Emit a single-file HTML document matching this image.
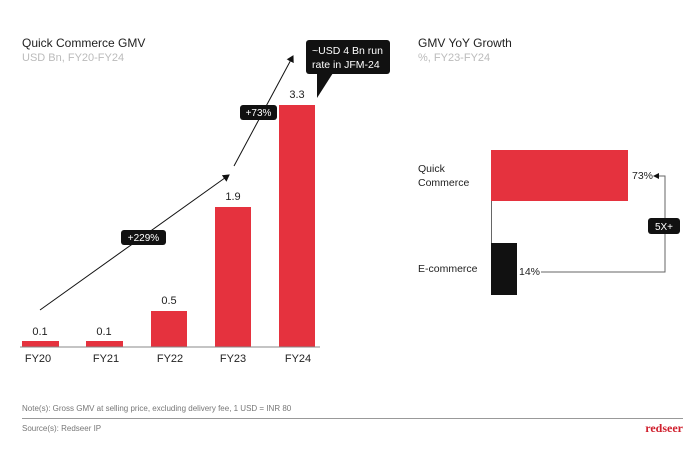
<!DOCTYPE html><html><head><style>body{margin:0;background:#fff}svg text{font-family:"Liberation Sans",sans-serif}</style></head><body>
<svg width="699" height="444" viewBox="0 0 699 444" xmlns="http://www.w3.org/2000/svg">
<defs><marker id="ah" markerWidth="8" markerHeight="8" refX="6" refY="4" orient="auto"><path d="M0,0 L7,4 L0,8z" fill="#111"/></marker></defs>
<text x="22" y="47" font-size="12" fill="#222">Quick Commerce GMV</text>
<text x="22" y="61" font-size="11" fill="#bbb">USD Bn, FY20-FY24</text>
<g fill="#e5323e">
<rect x="22" y="341" width="37" height="6"/><rect x="86" y="341" width="37" height="6"/>
<rect x="151" y="311" width="36" height="36"/><rect x="215" y="207" width="36" height="140"/>
<rect x="279" y="105" width="36" height="242"/></g>
<line x1="20" y1="347" x2="320" y2="347" stroke="#888" stroke-width="1"/>
<g font-size="11" fill="#222" text-anchor="middle">
<text x="40" y="335">0.1</text><text x="104" y="335">0.1</text><text x="169" y="304">0.5</text><text x="233" y="200">1.9</text><text x="297" y="98">3.3</text>
<text x="38" y="362">FY20</text><text x="106" y="362">FY21</text><text x="170" y="362">FY22</text><text x="233" y="362">FY23</text><text x="298" y="362">FY24</text></g>
<line x1="40" y1="310" x2="229" y2="175" stroke="#111" stroke-width="1" marker-end="url(#ah)"/>
<line x1="234" y1="166" x2="293" y2="56" stroke="#111" stroke-width="1" marker-end="url(#ah)"/>
<rect x="121" y="230" width="45" height="15" rx="3" fill="#111"/><text x="143.5" y="241" font-size="10" fill="#fff" text-anchor="middle">+229%</text>
<rect x="240" y="105" width="37" height="15" rx="3" fill="#111"/><text x="258.5" y="116" font-size="10" fill="#fff" text-anchor="middle">+73%</text>
<rect x="306" y="40" width="84" height="34" rx="3" fill="#111"/><path d="M317,73 L317,98 L333,73z" fill="#111"/>
<text x="312" y="54" font-size="10.5" fill="#fff">~USD 4 Bn run</text><text x="312" y="68" font-size="10.5" fill="#fff">rate in JFM-24</text>
<text x="418" y="47" font-size="12" fill="#222">GMV YoY Growth</text>
<text x="418" y="61" font-size="11" fill="#bbb">%, FY23-FY24</text>
<rect x="491" y="150" width="137" height="51" fill="#e5323e"/>
<rect x="491" y="243" width="26" height="52" fill="#111"/>
<line x1="491.5" y1="201" x2="491.5" y2="243" stroke="#666"/>
<g font-size="10.5" fill="#222"><text x="418" y="172">Quick</text><text x="418" y="186">Commerce</text><text x="418" y="272">E-commerce</text>
<text x="632" y="179">73%</text><text x="519" y="275">14%</text></g>
<path d="M541,272 L665,272 L665,176 L657,176" fill="none" stroke="#666" stroke-width="1"/>
<path d="M653,176 L659,173 L659,179z" fill="#111"/>
<rect x="648" y="218" width="32" height="16" rx="3" fill="#111"/><text x="664" y="230" font-size="10" fill="#fff" text-anchor="middle">5X+</text>
<text x="22" y="411" font-size="8" fill="#777">Note(s): Gross GMV at selling price, excluding delivery fee, 1 USD = INR 80</text>
<line x1="22" y1="418.5" x2="683" y2="418.5" stroke="#999"/>
<text x="22" y="431" font-size="8" fill="#777">Source(s): Redseer IP</text>
<text x="683" y="432" font-size="12" font-weight="bold" fill="#d0202e" text-anchor="end" style="font-family:'Liberation Serif',serif">redseer</text>
</svg></body></html>
